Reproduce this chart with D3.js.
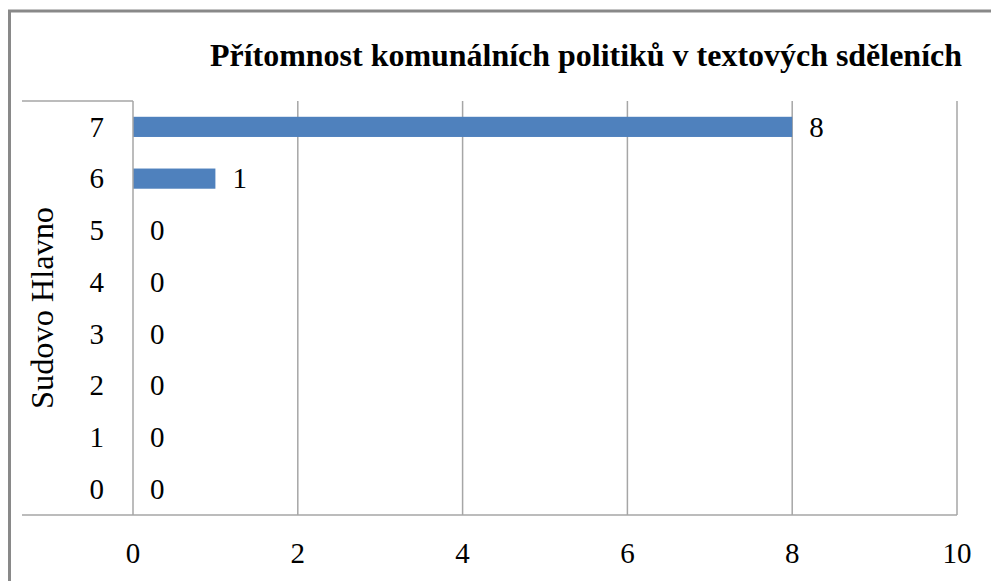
<!DOCTYPE html>
<html>
<head>
<meta charset="utf-8">
<script src="https://cdn.jsdelivr.net/npm/d3@7"></script>
<style>
  body { margin: 0; background: #fff; }
</style>
</head>
<body>
<div id="chart"></div>
<script>
const categories = ["0", "1", "2", "3", "4", "5", "6", "7"];
const values = [0, 0, 0, 0, 0, 0, 1, 8];
const xTicks = [0, 2, 4, 6, 8, 10];
const title = "Přítomnost komunálních politiků v textových sděleních";
const yTitle = "Sudovo Hlavno";

const W = 991, H = 581;
const plot = { left: 133, right: 957, top: 101, bottom: 515 };
const FONT = "'Liberation Serif', 'Times New Roman', serif";

const svg = d3.select("#chart").append("svg")
  .attr("width", W)
  .attr("height", H)
  .attr("font-family", FONT);

// outer frame (cropped on right/bottom)
svg.append("rect")
  .attr("x", 9.5).attr("y", 11)
  .attr("width", 1200).attr("height", 1200)
  .attr("fill", "none")
  .attr("stroke", "#898989")
  .attr("stroke-width", 3);

const x = d3.scaleLinear().domain([0, 10]).range([plot.left, plot.right]);
const y = d3.scaleBand()
  .domain(categories.slice().reverse())
  .range([plot.top, plot.bottom])
  .paddingInner(0.61)
  .paddingOuter(0.305);
const yc = d3.scaleBand().domain(categories.slice().reverse()).range([plot.top, plot.bottom]);

// gridlines
svg.append("g")
  .selectAll("line")
  .data(xTicks.filter(d => d > 0))
  .join("line")
  .attr("x1", d => x(d)).attr("x2", d => x(d))
  .attr("y1", plot.top).attr("y2", plot.bottom)
  .attr("stroke", "#a6a6a6")
  .attr("stroke-width", 1.5);

// bars
svg.append("g")
  .selectAll("rect")
  .data(categories.map((c, i) => ({ c, v: values[i] })))
  .join("rect")
  .attr("x", x(0))
  .attr("y", d => y(d.c))
  .attr("width", d => x(d.v) - x(0))
  .attr("height", y.bandwidth())
  .attr("fill", "#4f81bd");

// category box lines
svg.append("line")
  .attr("x1", 22).attr("x2", plot.left)
  .attr("y1", plot.top).attr("y2", plot.top)
  .attr("stroke", "#a6a6a6").attr("stroke-width", 1.5);
svg.append("line")
  .attr("x1", plot.left).attr("x2", plot.left)
  .attr("y1", plot.top).attr("y2", plot.bottom)
  .attr("stroke", "#a6a6a6").attr("stroke-width", 1.5);
svg.append("line")
  .attr("x1", 22).attr("x2", plot.right)
  .attr("y1", plot.bottom).attr("y2", plot.bottom)
  .attr("stroke", "#a6a6a6").attr("stroke-width", 1.5);

// value labels
svg.append("g")
  .selectAll("text")
  .data(categories.map((c, i) => ({ c, v: values[i] })))
  .join("text")
  .attr("x", d => x(d.v) + 17)
  .attr("y", d => yc(d.c) + yc.bandwidth() / 2)
  .attr("dy", "0.34em")
  .attr("font-size", 29)
  .text(d => d.v);

// category labels
svg.append("g")
  .selectAll("text")
  .data(categories)
  .join("text")
  .attr("x", 104)
  .attr("y", d => yc(d) + yc.bandwidth() / 2)
  .attr("dy", "0.34em")
  .attr("text-anchor", "end")
  .attr("font-size", 29)
  .text(d => d);

// x tick labels
svg.append("g")
  .selectAll("text")
  .data(xTicks)
  .join("text")
  .attr("x", d => x(d))
  .attr("y", 563)
  .attr("text-anchor", "middle")
  .attr("font-size", 29)
  .text(d => d);

// y axis title
svg.append("text")
  .attr("transform", `translate(53, 308) rotate(-90)`)
  .attr("text-anchor", "middle")
  .attr("textLength", 202)
  .attr("lengthAdjust", "spacingAndGlyphs")
  .attr("font-size", 31)
  .text(yTitle);

// chart title
svg.append("text")
  .attr("x", 210)
  .attr("y", 66)
  .attr("textLength", 752)
  .attr("lengthAdjust", "spacingAndGlyphs")
  .attr("font-size", 31)
  .attr("font-weight", "bold")
  .text(title);
</script>
</body>
</html>
